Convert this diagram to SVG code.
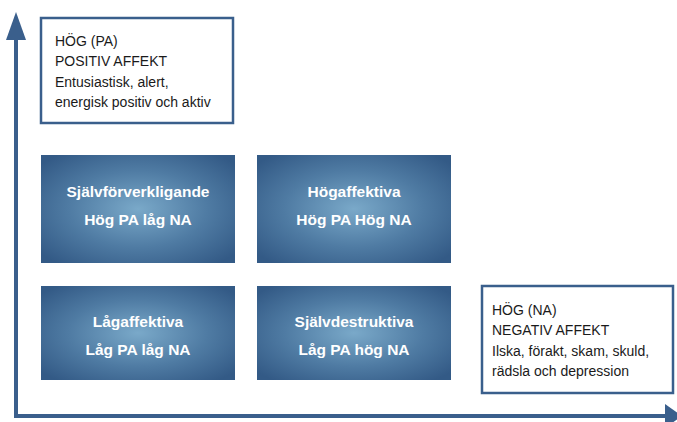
<svg xmlns="http://www.w3.org/2000/svg" width="677" height="422" viewBox="0 0 677 422">
<defs>
<radialGradient id="g" cx="50%" cy="50%" r="65%">
<stop offset="0" stop-color="#7aa9c9"/>
<stop offset="0.55" stop-color="#4f7ba3"/>
<stop offset="1" stop-color="#335a86"/>
</radialGradient>
<style>
.q{fill:url(#g);}
.qt{font-family:"Liberation Sans",Arial,sans-serif;font-weight:bold;font-size:15.5px;fill:#fff;text-anchor:middle;}
.box{fill:#fff;stroke:#3a5f8c;stroke-width:2.5;}
.bt{font-family:"Liberation Sans",Arial,sans-serif;font-size:14px;fill:#1a1a1a;}
.ax{stroke:#3a5f8c;stroke-width:4;fill:none;}
.ah{fill:#3a5f8c;}
</style>
</defs>
<g id="connectors">
<path class="ax" d="M16,36 V416 H668"/>
<polygon class="ah" points="16,12 6,40 26,40"/>
<polygon class="ah" points="682,416 665,404 665,428"/>
</g>
<g id="hog-pa">
<rect class="box" x="41" y="18" width="192" height="105"/>
<text class="bt" x="55" y="46">HÖG (PA)</text>
<text class="bt" x="55" y="66">POSITIV AFFEKT</text>
<text class="bt" x="55" y="87" font-size="13.5">Entusiastisk, alert,</text>
<text class="bt" x="55" y="107" font-size="13.5">energisk positiv och aktiv</text>
</g>
<g id="hog-na">
<rect class="box" x="482" y="286" width="191" height="107"/>
<text class="bt" x="492" y="315">HÖG (NA)</text>
<text class="bt" x="492" y="335">NEGATIV AFFEKT</text>
<text class="bt" x="492" y="356" font-size="13.5">Ilska, förakt, skam, skuld,</text>
<text class="bt" x="492" y="376" font-size="13.5">rädsla och depression</text>
</g>
<g id="sjalvforverkligande">
<rect class="q" x="41" y="155" width="194" height="108"/>
<text class="qt" x="138" y="197">Självförverkligande</text>
<text class="qt" x="138" y="225">Hög PA låg NA</text>
</g>
<g id="hogaffektiva">
<rect class="q" x="257" y="155" width="194" height="108"/>
<text class="qt" x="354" y="197">Högaffektiva</text>
<text class="qt" x="354" y="225">Hög PA Hög NA</text>
</g>
<g id="lagaffektiva">
<rect class="q" x="41" y="286" width="194" height="94"/>
<text class="qt" x="138" y="327">Lågaffektiva</text>
<text class="qt" x="138" y="355">Låg PA låg NA</text>
</g>
<g id="sjalvdestruktiva">
<rect class="q" x="257" y="286" width="194" height="94"/>
<text class="qt" x="354" y="327">Självdestruktiva</text>
<text class="qt" x="354" y="355">Låg PA hög NA</text>
</g>
</svg>
